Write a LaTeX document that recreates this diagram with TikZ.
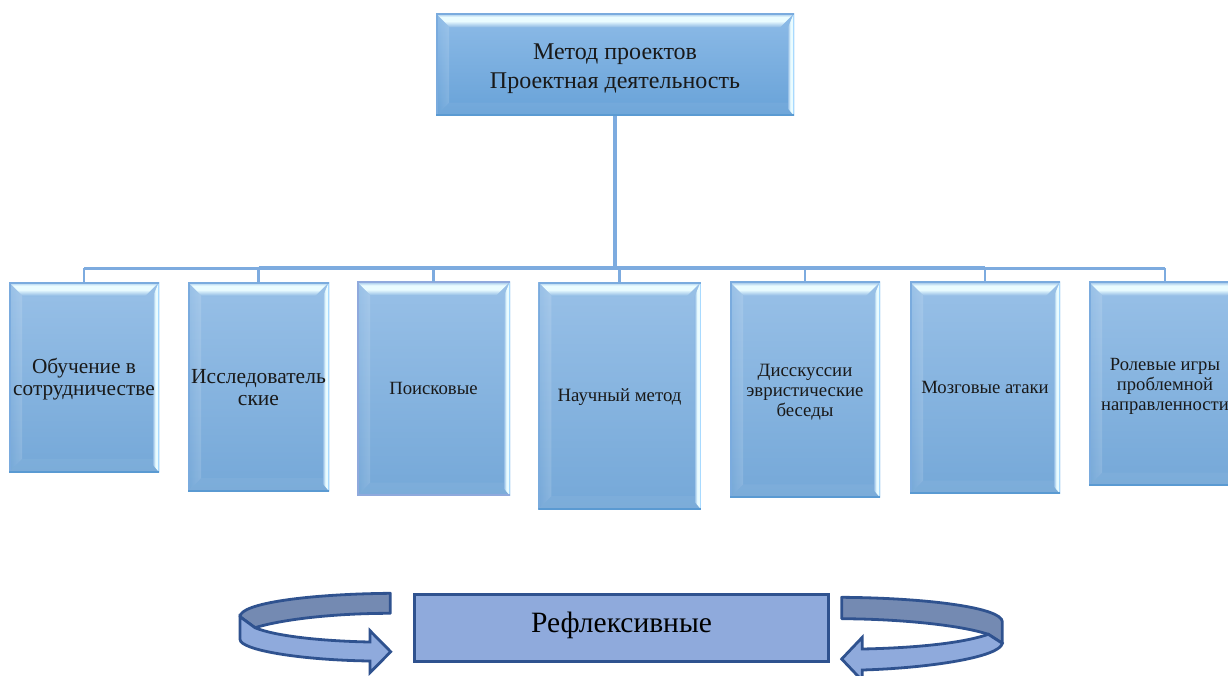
\documentclass[tikz,border=0pt]{standalone}
\usepackage{fontspec}
\usetikzlibrary{fadings}
\setmainfont{Liberation Serif}
\definecolor{edgeA}{HTML}{7AABDE}
\definecolor{edgeB}{HTML}{5A9AD2}
\definecolor{edgeC}{HTML}{8FA9DC}
\definecolor{edgeR}{HTML}{A8DAFF}
\definecolor{conn}{HTML}{7DABDF}
\definecolor{bodyT}{HTML}{98C0E7}
\definecolor{bodyB}{HTML}{75A8D8}
\definecolor{headT}{HTML}{8DBBE7}
\definecolor{headB}{HTML}{68A2D8}
\definecolor{refFill}{HTML}{8FAADC}
\definecolor{refDark}{HTML}{748AB2}
\definecolor{refLine}{HTML}{2F528F}
\definecolor{shine}{HTML}{EAFCFF}
\pgfdeclareverticalshading{bevelV}{100bp}{color(0bp)=(bodyT!60!edgeA); color(25bp)=(bodyT!60!edgeA); color(47bp)=(shine); color(62bp)=(shine); color(75bp)=(bodyT); color(100bp)=(bodyT)}
\pgfdeclarehorizontalshading{bevelH}{100bp}{color(0bp)=(bodyT); color(25bp)=(bodyT); color(45bp)=(shine); color(60bp)=(shine); color(75bp)=(edgeR); color(100bp)=(edgeR)}
\tikzfading[name=leftglow, left color=transparent!100, middle color=transparent!72, right color=transparent!85]
\tikzset{
  edgetop/.store in=\edgetopcol, edgebot/.store in=\edgebotcol,
  edgetop=edgeA, edgebot=edgeB,
  bevelbox/.style={rectangle, inner sep=0pt, align=center, text=black!90,
    top color=bodyT, bottom color=bodyB,
    path picture={
      \coordinate (NW) at (path picture bounding box.north west);
      \coordinate (NE) at (path picture bounding box.north east);
      \coordinate (SW) at (path picture bounding box.south west);
      \coordinate (SE) at (path picture bounding box.south east);
      \fill[white,path fading=leftglow] (NW) -- ([shift={(13pt,-13pt)}]NW) -- ([shift={(13pt,13pt)}]SW) -- (SW) -- cycle;
      \fill[white,opacity=.05] (SW) -- ([shift={(13pt,13pt)}]SW) -- ([shift={(-6pt,13pt)}]SE) -- (SE) -- cycle;
      \shade[shading=bevelV]
        (NW) -- (NE) -- ([shift={(-14pt,-14pt)}]NE) -- ([shift={(14pt,-14pt)}]NW) -- cycle;
      \shade[shading=bevelH]
        ([shift={(-6pt,-14pt)}]NE) -- (NE) -- (SE) -- ([shift={(-6pt,7pt)}]SE) -- cycle;
      \draw[edgeR,line width=2pt] (NE) -- (SE);
      \draw[\edgetopcol,line width=3pt] (SW) -- (NW) -- (NE);
      \draw[\edgebotcol,line width=3pt] (SW) -- (SE);
    }},
  headbox/.style={bevelbox, top color=headT, bottom color=headB},
  trunk/.style={conn, line width=4pt},
  bus/.style={conn, line width=3pt},
  drop/.style={conn, line width=2.6pt},
  refbox/.style={rectangle, draw=refLine, line width=2.8pt, fill=refFill, inner sep=0pt},
  refdark/.style={draw=refLine, line width=2.8pt, fill=refDark, line join=round},
  reffront/.style={draw=refLine, line width=2.8pt, fill=refFill, line join=miter},
}
\begin{document}
\begin{tikzpicture}[x=1pt,y=-1pt]
\useasboundingbox (0,0) rectangle (1228,675);
\fill[white] (0,0) rectangle (1228,675);

\node[headbox, font={\fontsize{24}{29}\selectfont}, text height=53.5pt, minimum width=358pt, minimum height=102.4pt] (top) at (615,64.5) {Метод проектов\\Проектная деятельность};
\node[bevelbox, font={\fontsize{21.3}{22}\selectfont}, text height=42.5pt, minimum width=150pt, minimum height=190pt] (b1) at (84,377) {Обучение в\\сотрудничестве};
\node[bevelbox, font={\fontsize{21.5}{22}\selectfont}, text height=38.6pt, minimum width=141pt, minimum height=209pt] (b2) at (258.5,386.5) {Исследователь\\ские};
\node[bevelbox, edgetop=edgeC, edgebot=edgeC, font={\fontsize{18.7}{20}\selectfont}, minimum width=153pt, minimum height=214pt] (b3) at (433.5,388.7) {Поисковые};
\node[bevelbox, font={\fontsize{18.8}{20}\selectfont}, text height=17pt, minimum width=162.5pt, minimum height=227pt] (b4) at (619.5,395.5) {Научный метод};
\node[bevelbox, font={\fontsize{18.8}{20}\selectfont}, text height=56.8pt, minimum width=150pt, minimum height=215.5pt] (b5) at (805,389.7) {Дисскуссии\\эвристические\\беседы};
\node[bevelbox, font={\fontsize{18.7}{20}\selectfont}, minimum width=150pt, minimum height=211.7pt] (b6) at (985,387.8) {Мозговые атаки};
\node[bevelbox, font={\fontsize{18.6}{20}\selectfont}, text height=56.7pt, minimum width=152pt, minimum height=203.7pt] (b7) at (1165,383.8) {Ролевые игры\\проблемной\\направленности};

\coordinate (hub) at (615,268.3);
\draw[trunk] (top.south) -- (hub);
\draw[bus] (b1.north |- hub) -- (b7.north |- hub);
\draw[bus,line width=3.8pt] (b2.north |- hub) -- (b6.north |- hub);
\foreach \n in {b1,b2,b3,b4,b5,b6,b7}{\draw[drop] (\n.north |- hub) -- (\n.north);}

\node[refbox, minimum width=414pt, minimum height=67pt, text depth=10.5pt, font=\fontsize{29.5}{32}\selectfont] (ref) at (621.5,628) {Рефлексивные};

% left circular arrow
\draw[refdark] (390.3,593.3) .. controls (310,594) and (240,603) .. (240,616.7)
  -- (255,627.7) .. controls (280,620) and (330,613.3) .. (390.3,613.3) -- cycle;
\draw[reffront] (240,616.7) -- (240,639.3) .. controls (240,650) and (300,660) .. (370,661)
  -- (370,672.7) -- (390.7,651.7) -- (370,630.7) -- (370,642)
  .. controls (320,641) and (275,636) .. (255,627.7) -- cycle;
% right circular arrow
\draw[refdark] (841.7,597.3) .. controls (930,598) and (1002,608) .. (1002.3,621.7)
  -- (1002.3,643.3) -- (988.3,634.3) .. controls (960,625) and (900,619) .. (841.7,618.7) -- cycle;
\draw[reffront] (1002.3,643.3) .. controls (1000,657) and (930,668) .. (862.3,670)
  -- (862.3,680.7) -- (841.7,659) -- (862.3,637.3) -- (862.3,649)
  .. controls (910,648) and (960,644) .. (988.3,634.3) -- cycle;
\end{tikzpicture}
\end{document}
